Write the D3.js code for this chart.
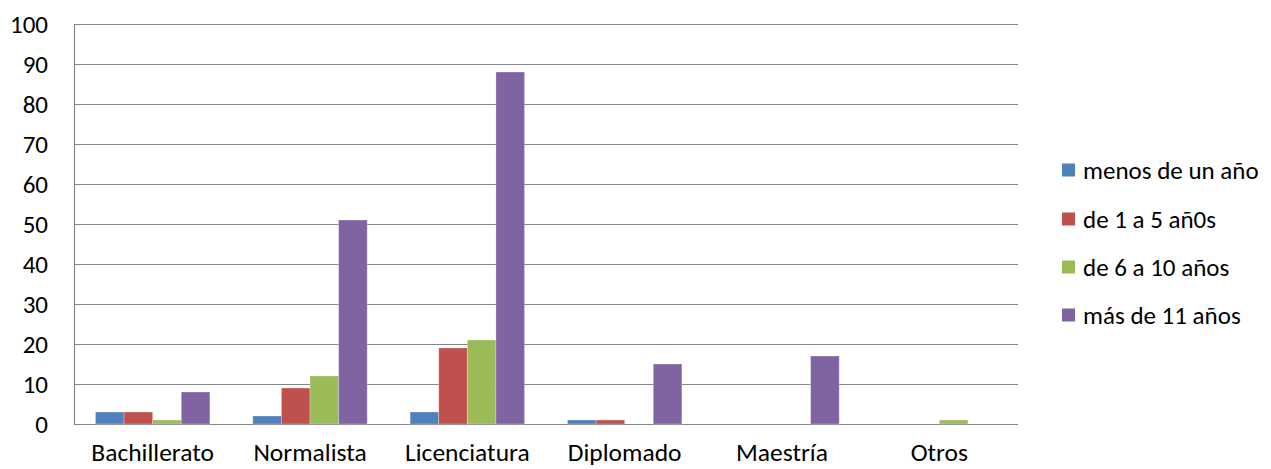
<!DOCTYPE html>
<html>
<head>
<meta charset="utf-8">
<script src="https://cdn.jsdelivr.net/npm/d3@7"></script>
<style>
  body { margin: 0; background: #fff; }
  text { font-family: Carlito, Lato, "Open Sans", sans-serif; fill: #000; }
</style>
</head>
<body>
<svg id="chart" width="1271" height="469"></svg>
<script>
// Education level categories
const categories = ["Bachillerato", "Normalista", "Licenciatura", "Diplomado", "Maestría", "Otros"];
// Years of service series
const seriesNames = ["menos de un año", "de 1 a 5 añ0s", "de 6 a 10 años", "más de 11 años"];
const menosDeUnAno = [3, 2, 3, 1, 0, 0];
const de1a5 = [3, 9, 19, 1, 0, 0];
const de6a10 = [1, 12, 21, 0, 0, 1];
const masDe11 = [8, 51, 88, 15, 17, 0];
const yTicks = [0, 10, 20, 30, 40, 50, 60, 70, 80, 90, 100];
const colors = ["#4F81BD", "#C0504D", "#9BBB59", "#8064A2"];

const seriesValues = [menosDeUnAno, de1a5, de6a10, masDe11];

const svg = d3.select("#chart");
const plot = { left: 74, right: 1018, top: 24, bottom: 424 };
const fontSize = 25;

const x0 = d3.scaleBand().domain(categories).range([plot.left, plot.right]).paddingInner(0).paddingOuter(0);
const bw = x0.bandwidth();
const groupW = bw * 4 / 5.5;
const x1 = d3.scaleBand().domain(d3.range(4)).range([0, groupW]).padding(0);
const y = d3.scaleLinear().domain([0, 100]).range([plot.bottom, plot.top]);

// Horizontal gridlines
svg.append("g")
  .selectAll("line")
  .data(yTicks)
  .join("line")
  .attr("x1", plot.left).attr("x2", plot.right)
  .attr("y1", d => Math.round(y(d)) + 0.5).attr("y2", d => Math.round(y(d)) + 0.5)
  .attr("stroke", "#868686").attr("stroke-width", 1.2);

// Left axis line
svg.append("line")
  .attr("x1", plot.left + 0.5).attr("x2", plot.left + 0.5)
  .attr("y1", plot.top).attr("y2", plot.bottom + 0.5)
  .attr("stroke", "#868686").attr("stroke-width", 1.2);

// Y tick labels
svg.append("g")
  .selectAll("text")
  .data(yTicks)
  .join("text")
  .attr("x", 48)
  .attr("y", d => y(d))
  .attr("dy", "0.35em")
  .attr("text-anchor", "end")
  .attr("font-size", fontSize)
  .text(d => d);

// Bars
const groups = svg.append("g")
  .selectAll("g")
  .data(categories)
  .join("g")
  .attr("transform", c => `translate(${x0(c) + (bw - groupW) / 2},0)`);

groups.selectAll("rect")
  .data((c, i) => seriesValues.map((vals, s) => ({ s, v: vals[i] })))
  .join("rect")
  .attr("x", d => x1(d.s))
  .attr("width", x1.bandwidth())
  .attr("y", d => y(d.v))
  .attr("height", d => y(0) - y(d.v))
  .attr("fill", d => colors[d.s])
  .attr("stroke", "#ffffff")
  .attr("stroke-opacity", 0.35)
  .attr("stroke-width", 0.8);

// Category labels
svg.append("g")
  .selectAll("text")
  .data(categories)
  .join("text")
  .attr("x", c => x0(c) + bw / 2)
  .attr("y", 461)
  .attr("text-anchor", "middle")
  .attr("font-size", 25.5)
  .text(c => c);

// Legend
const legendY = [170, 219, 267, 315];
const legend = svg.append("g")
  .selectAll("g")
  .data(seriesNames)
  .join("g")
  .attr("transform", (d, i) => `translate(1062,${legendY[i]})`);

legend.append("rect")
  .attr("x", 0).attr("y", -6.5)
  .attr("width", 13).attr("height", 13)
  .attr("fill", (d, i) => colors[i]);

legend.append("text")
  .attr("x", 21)
  .attr("y", 0)
  .attr("dy", "0.35em")
  .attr("font-size", fontSize)
  .text(d => d);
</script>
</body>
</html>
